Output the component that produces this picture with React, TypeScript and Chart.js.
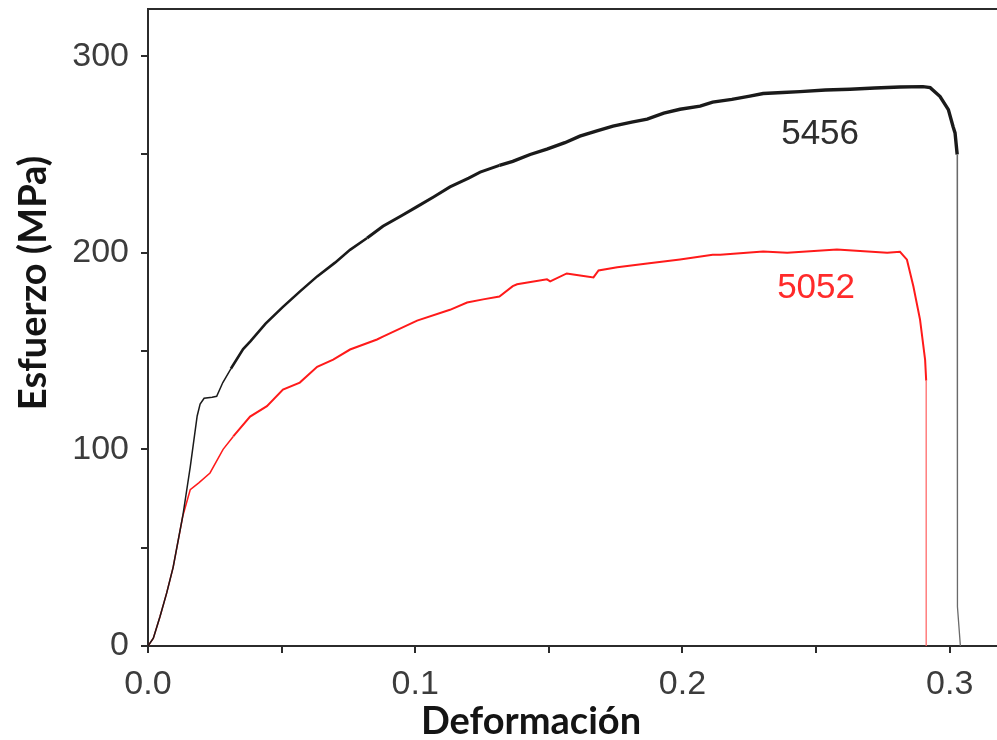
import React, { useEffect, useRef } from "react";
import { Chart, registerables } from "chart.js";

Chart.register(...registerables);

// Alloy 5456 (strain, stress MPa)
const strain5456 = [
  0, 0.002, 0.0045, 0.007, 0.0094, 0.013, 0.0158, 0.0184, 0.0195, 0.021, 0.024, 0.0257,
  0.028, 0.031, 0.0356, 0.0383, 0.044, 0.0505, 0.057, 0.0633, 0.07, 0.0756, 0.082, 0.0879,
  0.095, 0.1007, 0.107, 0.113, 0.12, 0.1243, 0.1315, 0.1365, 0.143, 0.1493, 0.156, 0.1616,
  0.168, 0.174, 0.181, 0.1868, 0.193, 0.1991, 0.2066, 0.2113, 0.2185, 0.2252, 0.2302, 0.2375,
  0.244, 0.2535, 0.2627, 0.272, 0.2814, 0.29, 0.2927, 0.2964, 0.2995, 0.3013, 0.302, 0.3028,
  0.3029, 0.304,
];
const stress5456 = [
  0, 4, 15, 27, 40, 66, 91, 117, 123, 126, 126.5, 127,
  134, 141, 151, 155, 164, 172.5, 180.5, 188, 195, 201.5, 207.5, 213.5,
  219, 223.5, 228.5, 233.5, 238, 241, 244.5, 246.5, 250, 252.7, 256, 259.3,
  262, 264.4, 266.5, 268, 271, 273, 274.6, 276.6, 278, 279.7, 281, 281.5,
  282, 282.8, 283.2, 283.8, 284.3, 284.5, 284, 279.5, 272.8, 264, 261, 250,
  20, 0,
];

// Alloy 5052 (strain, stress MPa)
const strain5052 = [
  0, 0.002, 0.0045, 0.007, 0.0094, 0.013, 0.0158, 0.019, 0.0232, 0.0281, 0.0319, 0.0382,
  0.0445, 0.0505, 0.0568, 0.0633, 0.0693, 0.0756, 0.0857, 0.0879, 0.1007, 0.113, 0.1194, 0.1254,
  0.1315, 0.1365, 0.1381, 0.1493, 0.1505, 0.1567, 0.1617, 0.1667, 0.1686, 0.1756, 0.1868, 0.1991,
  0.2113, 0.2141, 0.2302, 0.2392, 0.2578, 0.2766, 0.2814, 0.284, 0.2864, 0.2889, 0.2908, 0.2912,
  0.2912,
];
const stress5052 = [
  0, 4, 15, 27, 40, 66, 79.5, 83, 88, 100, 106.6, 116.7,
  122, 130.4, 134, 142, 145.7, 150.8, 155.9, 157.4, 165.5, 171, 174.7, 176.3,
  177.8, 183, 184, 186.5, 185.5, 189.5, 188.5, 187.5, 191, 192.6, 194.5, 196.6,
  199, 199, 200.7, 200, 201.7, 200, 200.5, 196.5, 183, 166, 145.5, 135,
  0,
];

const xTickStep = 0.05;
const yTickStep = 50;
const xLabelStep = 0.1;
const yLabelStep = 100;

const annotationTexts = ["5456", "5052"];
const annotationX = [0.2515, 0.25];
const annotationY = [260, 181.7];
const annotationColors = ["#2e2e2e", "#ff2a2a"];

const xTitle = "Deformación";
const yTitle = "Esfuerzo (MPa)";

const toPoints = (xs: number[], ys: number[]) => xs.map((x, i) => ({ x, y: ys[i] }));

const decorPlugin = {
  id: "decor",
  afterDraw(chart: any) {
    const { ctx, chartArea, scales } = chart;
    ctx.save();
    // top frame line
    ctx.strokeStyle = "#2b2b2b";
    ctx.lineWidth = 2;
    ctx.beginPath();
    ctx.moveTo(chartArea.left - 1, chartArea.top);
    ctx.lineTo(chartArea.right, chartArea.top);
    ctx.stroke();

    // curve labels
    ctx.font = '35px "Liberation Sans", Arial, sans-serif';
    ctx.textAlign = "center";
    ctx.textBaseline = "middle";
    annotationTexts.forEach((t, i) => {
      ctx.fillStyle = annotationColors[i];
      ctx.fillText(t, scales.x.getPixelForValue(annotationX[i]), scales.y.getPixelForValue(annotationY[i]));
    });

    // axis titles
    ctx.fillStyle = "#141414";
    ctx.font = 'bold 38px Lato, "Open Sans", sans-serif';
    ctx.fillText(xTitle, 531, 722);
    ctx.translate(34, 283);
    ctx.rotate(-Math.PI / 2);
    ctx.fillText(yTitle, 0, 0);
    ctx.restore();
  },
};

const isMultiple = (v: number, step: number) => Math.abs(v / step - Math.round(v / step)) < 1e-6;

export default function App() {
  const ref = useRef<HTMLCanvasElement | null>(null);

  useEffect(() => {
    if (!ref.current) return;
    const n1 = strain5456.length;
    const n2 = strain5052.length;
    const chart = new Chart(ref.current, {
      type: "line",
      data: {
        datasets: [
          {
            label: "5456",
            data: toPoints(strain5456, stress5456),
            borderColor: "#1a1a1a",
            borderWidth: 2,
            pointRadius: 0,
            tension: 0,
            segment: {
              borderWidth: (c: any) => {
                if (c.p1DataIndex >= n1 - 2) return 1.3;
                const x = c.p0.parsed.x;
                return x < 0.03 ? 1.5 : x < 0.08 ? 2.6 : x < 0.13 ? 3 : 3.4;
              },
              borderColor: (c: any) => (c.p1DataIndex >= n1 - 2 ? "#6a6a6a" : "#1a1a1a"),
            },
          },
          {
            label: "5052",
            data: toPoints(strain5052, stress5052),
            borderColor: "#ff1a1a",
            borderWidth: 2,
            pointRadius: 0,
            tension: 0,
            segment: {
              borderWidth: (c: any) => {
                if (c.p1DataIndex >= n2 - 1) return 1.3;
                return c.p0.parsed.x < 0.03 ? 1.5 : 2;
              },
              borderColor: (c: any) => (c.p1DataIndex >= n2 - 1 ? "#ff6a6a" : "#ff1a1a"),
            },
          },
        ],
      },
      options: {
        animation: false,
        responsive: false,
        maintainAspectRatio: false,
        layout: { padding: { top: 9, right: 0, left: 0, bottom: 0 } },
        plugins: { legend: { display: false }, tooltip: { enabled: false } },
        scales: {
          x: {
            type: "linear",
            min: 0,
            max: 0.3177,
            afterFit: (s: any) => {
              s.height = 94;
              s.paddingLeft = 0;
              s.paddingRight = 0;
            },
            border: { display: true, color: "#2b2b2b", width: 2 },
            grid: { display: true, drawOnChartArea: false, drawTicks: true, tickLength: 7, color: "#2b2b2b", lineWidth: 2 },
            ticks: {
              stepSize: xTickStep,
              includeBounds: false,
              autoSkip: false,
              maxRotation: 0,
              padding: 11,
              color: "#3c3c3c",
              font: { family: '"Liberation Sans", Arial, sans-serif', size: 34 },
              callback: (v: any) => (isMultiple(Number(v), xLabelStep) ? Number(v).toFixed(1) : ""),
            },
          },
          y: {
            type: "linear",
            min: 0,
            max: 324,
            afterFit: (s: any) => {
              s.width = 148;
              s.paddingTop = 0;
              s.paddingBottom = 0;
            },
            border: { display: true, color: "#2b2b2b", width: 2 },
            grid: { display: true, drawOnChartArea: false, drawTicks: true, tickLength: 7, color: "#2b2b2b", lineWidth: 2 },
            ticks: {
              stepSize: yTickStep,
              includeBounds: false,
              autoSkip: false,
              padding: 12,
              color: "#3c3c3c",
              font: { family: '"Liberation Sans", Arial, sans-serif', size: 34 },
              callback: (v: any) => (isMultiple(Number(v), yLabelStep) ? String(v) : ""),
            },
          },
        },
      },
      plugins: [decorPlugin],
    });
    return () => chart.destroy();
  }, []);

  return (
    <div style={{ position: "fixed", left: 0, top: 0, width: 997, height: 740, background: "#fff" }}>
      <canvas ref={ref} width={997} height={740} style={{ width: 997, height: 740, display: "block" }} />
    </div>
  );
}
